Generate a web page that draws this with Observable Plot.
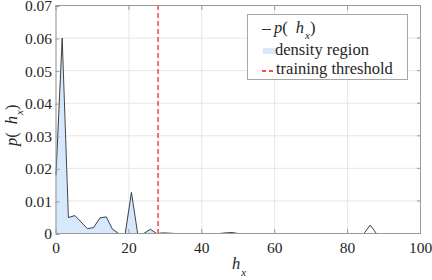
<!DOCTYPE html>
<html>
<head>
<meta charset="utf-8">
<script src="https://cdn.jsdelivr.net/npm/d3@7"></script>
<script src="https://cdn.jsdelivr.net/npm/@observablehq/plot@0.6"></script>
<style>
  body { margin: 0; background: #fff; }
  #wrap { position: relative; width: 432px; height: 280px; font-family: 'Liberation Serif', 'Times New Roman', Tinos, 'DejaVu Serif', serif; color: #262626; }
  #wrap svg { position: absolute; left: 0; top: 0; }
  #wrap svg text { font-family: 'Liberation Serif', 'Times New Roman', Tinos, 'DejaVu Serif', serif; }
  .math { font-style: italic; }
  .up { font-style: normal; }
  .gap { margin-left: 8px; }
  .sub { font-size: 11px; position: relative; top: 6px; margin-left: 1px; }
  .lbl { position: absolute; font-size: 16.5px; white-space: nowrap; line-height: 1; }
  .legend { position: absolute; left: 247px; top: 14px; width: 159px; height: 64px; border: 1px solid #a6a6a6; background: #fff; }
  .legend .row { position: absolute; font-size: 16.5px; line-height: 1; white-space: nowrap; }
  .sw { position: absolute; }
</style>
</head>
<body>
<div id="wrap"></div>
<script>
// bin centres of h_x and the estimated density p(h_x) at each
const hx = [0, 1.7, 3.4, 5.2, 6.9, 8.6, 10.3, 12.1, 13.8, 15.5, 17.2, 19.0, 20.7, 22.4, 24.1, 25.9, 27.6,
  29.3, 31.0, 32.8, 34.5, 36.2, 37.9, 39.7, 41.4, 43.1, 44.8, 46.6, 48.3, 50.0, 51.7, 53.4, 55.2, 56.9,
  58.6, 60.3, 62.1, 63.8, 65.5, 67.2, 69.0, 70.7, 72.4, 74.1, 75.9, 77.6, 79.3, 81.0, 82.8, 84.5, 86.2,
  87.9, 89.7, 91.4, 93.1, 94.8, 96.6, 98.3, 100];
const px = [0.018, 0.060, 0.0049, 0.0055, 0.0035, 0.0015, 0.0018, 0.0048, 0.0051, 0.0013, 0, 0, 0.0126, 0, 0, 0.0013, 0,
  0.0002, 0.0001, 0, 0, 0, 0, 0, 0, 0, 0, 0.0002, 0.0003, 0, 0, 0, 0, 0,
  0, 0, 0, 0, 0, 0, 0, 0, 0, 0, 0, 0, 0, 0, 0, 0, 0.0026,
  0, 0, 0, 0, 0, 0, 0, 0];
const threshold = 28;
const xTicks = [0, 20, 40, 60, 80, 100];
const yTicks = [0, 0.01, 0.02, 0.03, 0.04, 0.05, 0.06, 0.07];

const density = hx.map((h, i) => ({h, p: px[i]}));
const region = density.filter(d => d.h <= threshold);

const serif = "'Liberation Serif', 'Times New Roman', Tinos, 'DejaVu Serif', serif";
const axisGray = "#9a9a9a";

const chart = Plot.plot({
  width: 432,
  height: 280,
  marginLeft: 55.5,
  marginRight: 12,
  marginTop: 5,
  marginBottom: 47,
  style: {fontFamily: serif, fontSize: "15.5px", color: "#262626", background: "transparent"},
  x: {domain: [0, 100], ticks: xTicks, label: null},
  y: {domain: [0, 0.07], ticks: yTicks, label: null},
  marks: [
    Plot.gridX(xTicks, {stroke: "#e6e6e6", strokeOpacity: 1}),
    Plot.gridY(yTicks, {stroke: "#e6e6e6", strokeOpacity: 1}),
    Plot.areaY(region, {x: "h", y: "p", fill: "#d5e8fc", fillOpacity: 1}),
    Plot.lineY(density, {x: "h", y: "p", stroke: "#2e2e2e", strokeWidth: 0.9}),
    Plot.ruleX([threshold], {stroke: "#ff4a4a", strokeWidth: 1.6, strokeDasharray: "5,3"}),
    Plot.frame({stroke: axisGray}),
    Plot.axisX(xTicks, {tickSize: -4, tickPadding: 12, stroke: axisGray, fill: "#262626", fontSize: 15.5, fontFamily: serif}),
    Plot.axisX(xTicks, {anchor: "top", tickSize: -4, text: null, stroke: axisGray}),
    Plot.axisY(yTicks, {tickSize: -4, tickPadding: 8, dy: 1, stroke: axisGray, fill: "#262626", fontSize: 15.5, fontFamily: serif,
      tickFormat: d => d === 0 ? "0" : d3.format(".2f")(d)}),
    Plot.axisY(yTicks, {anchor: "right", tickSize: -4, text: null, stroke: axisGray})
  ]
});

const wrap = document.getElementById("wrap");
wrap.appendChild(chart);

// axis labels with subscripts, and the legend box
const pLabel = `<span class="math">p</span><span class="up">(</span><span class="math gap">h</span><span class="math sub">x</span><span class="up">)</span>`;
wrap.insertAdjacentHTML("beforeend", `
  <div class="lbl math" style="left:232px; top:256px;">h<span class="sub" style="top:7px;">x</span></div>
  <div class="lbl" style="left:4px; top:146px; transform-origin: 0 0; transform: rotate(-90deg);">${pLabel}</div>
  <div class="legend">
    <div class="sw" style="left:14px; top:14px; width:9px; height:0; border-top:1px solid #2e2e2e;"></div>
    <div class="row" style="left:26px; top:5px;">${pLabel}</div>
    <div class="sw" style="left:15px; top:33px; width:12px; height:6px; background:#d5e8fc;"></div>
    <div class="row" style="left:27px; top:27px;">density region</div>
    <div class="sw" style="left:14px; top:55px; width:14px; height:1.5px; background: repeating-linear-gradient(to right, #ff4a4a 0 4px, transparent 4px 7px);"></div>
    <div class="row" style="left:28px; top:46px;">training threshold</div>
  </div>
`);
</script>
</body>
</html>
